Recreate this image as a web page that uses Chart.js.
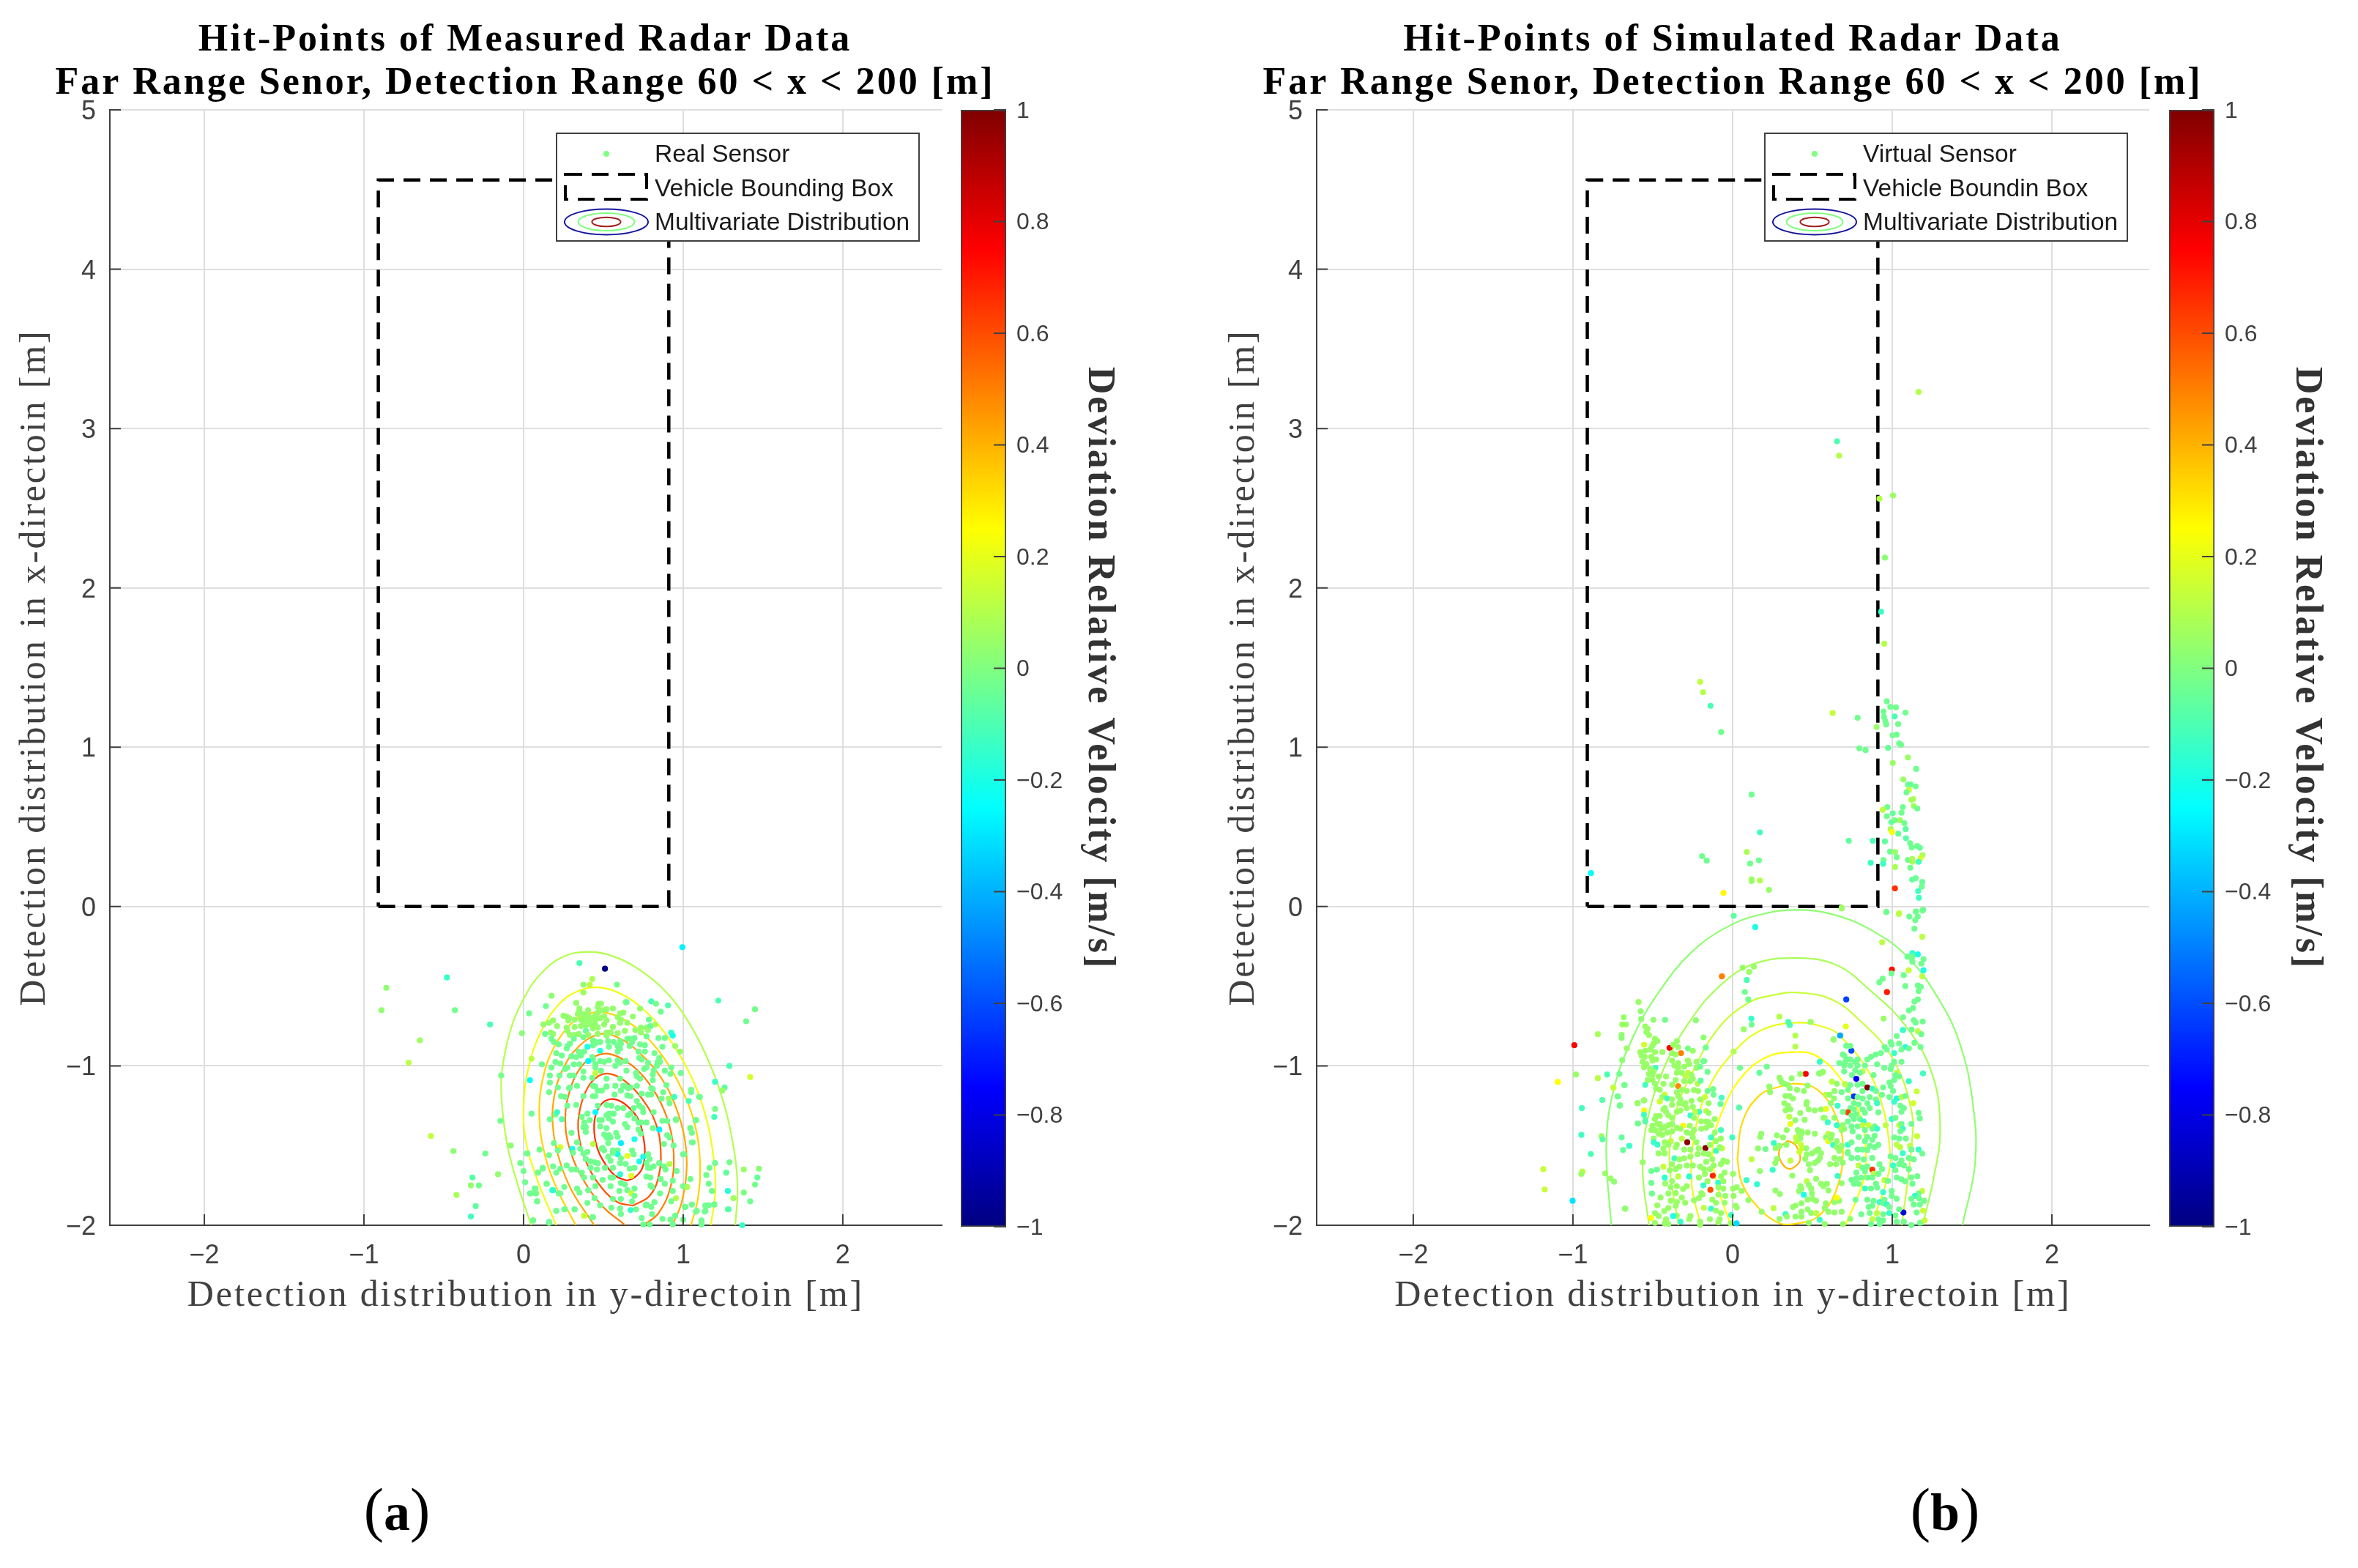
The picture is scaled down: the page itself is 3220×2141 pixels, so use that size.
<!DOCTYPE html>
<html>
<head>
<meta charset="utf-8">
<title>Hit-Points of Radar Data</title>
<script src="https://cdn.jsdelivr.net/npm/chart.js@4/dist/chart.umd.min.js"></script>
<style>
  html, body { margin: 0; padding: 0; background: #fff; overflow: hidden; }
  #page { position: relative; width: 3220px; height: 2141px; }
  canvas { position: absolute; top: 0; }
  .tag { position: absolute; top: 2012px; width: 160px; margin-left: -80px; text-align: center;
         font: normal 82px/100px "Liberation Serif", serif; color: #000; }
  .tag b { font-size: 72px; }
</style>
</head>
<body>
<div id="page">
  <canvas id="measuredPanel" width="1434" height="1800" style="left:0"></canvas>
  <canvas id="measuredBar" width="300" height="1800" style="left:1290px"></canvas>
  <canvas id="virtualPanel" width="1532" height="1800" style="left:1600px"></canvas>
  <canvas id="virtualBar" width="280" height="1800" style="left:2940px"></canvas>
  <div class="tag" style="left:542px">(<b>a</b>)</div>
  <div class="tag" style="left:2656px">(<b>b</b>)</div>
</div>
<script>
// ===== tick labels and texts =====
const xTickValues = [-2, -1, 0, 1, 2];
const yTickValues = [-2, -1, 0, 1, 2, 3, 4, 5];
const barTickValues = [-1, -0.8, -0.6, -0.4, -0.2, 0, 0.2, 0.4, 0.6, 0.8, 1];

const measuredTitle = ['Hit-Points of Measured Radar Data', 'Far Range Senor, Detection Range 60 < x < 200 [m]'];
const virtualTitle = ['Hit-Points of Simulated Radar Data', 'Far Range Senor, Detection Range 60 < x < 200 [m]'];
const measuredLegend = ['Real Sensor', 'Vehicle Bounding Box', 'Multivariate Distribution'];
const virtualLegend = ['Virtual Sensor', 'Vehicle Boundin Box', 'Multivariate Distribution'];

// vehicle outline, same in both panels
const boxX = [-.91, .91, .91, -.91, -.91];
const boxY = [0, 0, 4.56, 4.56, 0];

// ===== measured data: [y-direction, x-direction, deviation (optional)] =====
const measuredOutliers = [[-.86,-.51,.03],[-.89,-.65,.03],[-.48,-.445,-.14],[-.43,-.65],[-.21,-.74,-.1],[-.65,-.84,.06],[-.72,-.98,.12],
[-.14,-1.06,-.02],[-.145,-1.345],[-.58,-1.44,.13],[-.44,-1.535,.03],[-.24,-1.55],[-.08,-1.5,.03],[-.16,-1.68,.04],[-.32,-1.7,-.08],[-.33,-1.75,.04],[-.28,-1.75,-.03],[-.42,-1.81,.08],[-.3,-1.88,-.06],[-.33,-1.945,-.12],
[-.02,-1.61],[0,-1.66],[.02,-1.55],[.01,-1.73],[.09,-1.67],[.12,-1.64],[.04,-1.8],[.08,-1.8,.06],[.085,-1.85,.04],[.07,-1.77],[.06,-1.97],[.16,-1.98,-.1],[.145,-1.74,.03],[.18,-1.78,-.14],[.26,-1.9,.03],[.32,-1.9,.03],[.38,-1.94,.12],[.43,-1.95],[.22,-1.8],
[.995,-.255,-.27],[1.22,-.59,-.1],[1.45,-.645,-.02],[1.395,-.72],[1.29,-1,-.1],[1.42,-1.07,.16],[1.2,-1.1,-.14],[1.26,-1.135,-.07],[1.245,-1.155,.05],[1.1,-1.195,-.04],[1.2,-1.27,-.01],[1.195,-1.32,-.12],[1.08,-1.34,-.02],[1.045,-1.39,.02],[1.055,-1.48],[1,-1.555,-.04],
[1.2,-1.61],[1.29,-1.605,-.02],[1.165,-1.64],[1.38,-1.65,.05],[1.475,-1.645,.02],[1.145,-1.685],[1.27,-1.67,-.06],[1.465,-1.7,-.05],[1.16,-1.74,-.03],[1.45,-1.745,-.02],[1.18,-1.785],[1.28,-1.785,-.17],[1.38,-1.795,-.01],[1.315,-1.83,.06],[1.42,-1.85],[1.195,-1.87],[1.14,-1.88,.02],[1.055,-1.87],[1.015,-1.885],[1.08,-1.915],[1.135,-1.915],[1.28,-1.9,-.05],[1.115,-1.975],[1.37,-2,-.14],[1.045,-1.71],[1.02,-1.76,.06],
[.35,-.355,-.1],[.51,-.39,-.98],[.43,-.455,.08],[.375,-.49,.03],[.415,-.49,.12],[.585,-.49,-.02],[.375,-.54,.06],[.175,-.56,.03],[.14,-.625],[.33,-.605,.02],[.035,-.67,-.03],[-.01,-.795,.02],[.05,-.955,.12],
[.8,-.595,-.1],[.83,-.61,-.02],[.905,-.62,-.08],[.86,-.66],[.64,-.6,.03]];

const measuredTop = [[.33,-.605],[.47,-.61],[.485,-.61],[.645,-.6,-.04],[.73,-.64],[.56,-.64],[.35,-.64],[.35,-.655],[.405,-.65],[.465,-.63],[.52,-.645],[.375,-.675],[.4,-.675],[.465,-.665],[.495,-.65],[.34,-.675],[.605,-.67],[.625,-.665],[.685,-.69],
[.25,-.685],[.27,-.69],[.285,-.7],[.28,-.715],[.32,-.71],[.36,-.71],[.38,-.7],[.405,-.69],[.43,-.7],[.45,-.685],[.48,-.7],[.505,-.69],[.375,-.72],[.405,-.715],[.43,-.72],[.45,-.715],[.52,-.715],[.59,-.695],[.61,-.71],[.65,-.73],[.785,-.71,-.05],
[.185,-.715],[.16,-.73],[.125,-.74],[.21,-.75],[.27,-.76],[.32,-.755],[.36,-.75],[.39,-.745],[.42,-.74],[.45,-.745],[.465,-.76],[.505,-.74],[.56,-.755],[.605,-.73],[.435,-.765],[.735,-.76],[.77,-.76],[.795,-.75,-.06],[.825,-.74,.08],
[.135,-.8,-.04],[.17,-.79],[.185,-.8],[.275,-.78],[.29,-.805],[.32,-.805],[.345,-.8],[.39,-.78,-.04],[.405,-.805],[.465,-.8],[.52,-.79],[.545,-.79],[.59,-.795],[.635,-.78],[.7,-.775],[.735,-.79],[.78,-.775],[.52,-.81]];

const measuredMiddle = [[.175,-.83],[.19,-.85],[.315,-.83],[.375,-.82],[.435,-.84],[.45,-.85],[.48,-.85],[.53,-.845],[.565,-.85],[.605,-.845],[.65,-.83],[.67,-.83],[.695,-.825],[.68,-.85],[.77,-.815],[.845,-.825],[.885,-.825],[.925,-.79,-.14],[.935,-.81,-.2],
[.22,-.865],[.275,-.875],[.27,-.89],[.29,-.86],[.435,-.87],[.45,-.86],[.4,-.88,-.2],[.535,-.88],[.59,-.875],[.61,-.86],[.665,-.875],[.73,-.865],[.76,-.87],[.87,-.88],[.95,-.875,.05],[.76,-.91],[.72,-.91],[.48,-.905,-.18],[.59,-.91],[.345,-.91],[.38,-.91],[.605,-.89],[.82,-.92],[.98,-.91,.04],
[.205,-.92],[.24,-.935],[.3,-.94],[.33,-.945],[.36,-.935],[.43,-.945],[.435,-.96],[.725,-.95],[.74,-.96],[.85,-.95],[.2,-.975],[.23,-.985],[.315,-.99],[.35,-.99],[.48,-.97],[.505,-.975],[.535,-.965],[.59,-.965],[.605,-.98],[.64,-.97],[.78,-.98],[.84,-.975],[.855,-.975],
[.115,-.99],[.175,-1.01],[.26,-1.02],[.275,-1.01],[.405,-.97,-.27],[.45,-.99],[.45,-1.01],[.575,-1],[.645,-1.03],[.755,-1.02],[.77,-1.01],[.835,-1],[.925,-1.01],[.815,-1.03],[.885,-1.03],[.985,-1.045],[.92,-1.05],
[.165,-1.06],[.225,-1.06],[.29,-1.06],[.315,-1.06],[.375,-1.035],[.375,-1.075],[.43,-1.075],[.485,-1.03],[.45,-1.045,.13],[.52,-1.08],[.605,-1.08],[.705,-1.045],[.81,-1.055],[.71,-1.065],[.73,-1.08],[.81,-1.09],[.04,-1.09,-.25],[.165,-1.105],[.215,-1.135],[.285,-1.14],[.335,-1.125],[.435,-1.125],[.52,-1.13],[.575,-1.125],[.625,-1.125],[.655,-1.14],[.71,-1.125],[.8,-1.14],[.895,-1.12],[1.05,-1.15]];

const measuredLower = [[.16,-1.165],[.235,-1.19],[.26,-1.195],[.29,-1.135],[.275,-1.25],[.33,-1.245],[.375,-1.19],[.435,-1.19],[.45,-1.19],[.465,-1.155],[.49,-1.155],[.45,-1.13],[.52,-1.13],[.57,-1.18],[.61,-1.155],[.65,-1.185],[.67,-1.19],[.635,-1.125],[.67,-1.135],[.71,-1.22],[.74,-1.175],[.78,-1.18],[.8,-1.18],[.81,-1.145],[.875,-1.165],[.865,-1.205],[.91,-1.205,.06],[.945,-1.195,-.12],[.915,-1.235],[1.05,-1.165],[1.035,-1.22,-.1],[1.105,-1.195],
[.05,-1.3],[.2,-1.305],[.21,-1.29,-.14],[.165,-1.335],[.24,-1.335,-.08],[.365,-1.32],[.4,-1.3],[.38,-1.355],[.415,-1.34],[.39,-1.385],[.375,-1.385],[.39,-1.415],[.45,-1.29,-.25],[.465,-1.25],[.52,-1.245],[.55,-1.25],[.59,-1.265],[.625,-1.265],[.69,-1.265],[.725,-1.25],[.745,-1.265],[.75,-1.29],[.815,-1.29],[.535,-1.3],[.565,-1.3],[.52,-1.31],[.49,-1.34],[.475,-1.34],[.535,-1.33],[.56,-1.35],[.655,-1.31],[.67,-1.3],[.695,-1.33],[.635,-1.365],[.65,-1.385],[.72,-1.355],[.735,-1.355],[.77,-1.355],[.87,-1.345],[.9,-1.345],[.955,-1.335],[.955,-1.34],[1.08,-1.34],[1.045,-1.39],[1.055,-1.42],[1.06,-1.48],
[.48,-1.38],[.52,-1.39],[.72,-1.4],[.735,-1.425],[.81,-1.39],[.85,-1.4,-.28],[.9,-1.435],[.915,-1.45],[.88,-1.49],[.94,-1.5],[.3,-1.42],[.505,-1.43],[.535,-1.435],[.52,-1.45],[.545,-1.45],[.58,-1.42],[.59,-1.445],[.695,-1.46,-.2],[.61,-1.485,-.28],[.53,-1.485],[.335,-1.48],[.435,-1.49,.12],[.355,-1.52],[.495,-1.515],[.19,-1.485],[.23,-1.51,.18],[.1,-1.525],[.025,-1.55],[.215,-1.53],[.305,-1.52,-.2],[.31,-1.545],
[.375,-1.55],[.4,-1.54],[.49,-1.52],[.505,-1.53],[.56,-1.53],[.59,-1.53],[.68,-1.53],[.59,-1.555,-.2],[.56,-1.545],[.65,-1.565,.2],[.69,-1.555],[.61,-1.58],[.53,-1.57],[.545,-1.595],[.42,-1.6],[.445,-1.605],[.465,-1.61],[.39,-1.585],[.27,-1.625],[.3,-1.65],[.16,-1.56],[.725,-1.6,-.2],[.75,-1.57,-.2],[.78,-1.555],[.79,-1.585],[.77,-1.61],[.78,-1.64],[.795,-1.64],[.85,-1.61],[.915,-1.615,.1],[.815,-1.63],[.88,-1.63],[.89,-1.65],[.96,-1.66],[1.005,-1.555],[.605,-1.61],[.64,-1.615],[.665,-1.645],[.695,-1.64],[.56,-1.64],[.51,-1.64],[.46,-1.65],[.42,-1.64],[.185,-1.63],[.23,-1.645],[.12,-1.645],[.09,-1.67],[.205,-1.67],[.33,-1.65],[.365,-1.67],
[.38,-1.7],[.435,-1.7],[.495,-1.715],[.605,-1.68,-.16],[.545,-1.7],[.56,-1.7],[.675,-1.69,.18],[.77,-1.695],[.795,-1.7],[.86,-1.71],[.935,-1.72],[1,-1.755],[1.025,-1.76,.08],[.61,-1.735],[.635,-1.745],[.885,-1.74],[.795,-1.75],[.805,-1.76],[.255,-1.76],[.45,-1.755],[.545,-1.755],[.145,-1.74],[.185,-1.78,-.16],[.23,-1.8],[.075,-1.77],[.045,-1.8],[.075,-1.8],[.335,-1.77],[.35,-1.795],[.405,-1.78],[.6,-1.785],[.65,-1.78],[.695,-1.77],[.675,-1.8,.14],[.695,-1.815],[.855,-1.8],[.935,-1.785],
[.085,-1.85],[.4,-1.86],[.445,-1.83],[.48,-1.875],[.56,-1.835],[.61,-1.835],[.68,-1.85],[.77,-1.87],[.82,-1.855],[.765,-1.875],[.955,-1.83,.1],[.925,-1.85],[.8,-1.885],[.205,-1.91],[.255,-1.9],[.32,-1.9],[.38,-1.94,.14],[.435,-1.95],[.55,-1.89],[.605,-1.895],[.67,-1.905,-.14],[.705,-1.9],[.61,-1.93],[.805,-1.93],[1.01,-1.885],[.06,-1.97],[.16,-1.985],[.87,-1.96],[.92,-1.965],[.95,-1.94],[1,-1.965],[.74,-1.955],[.75,-1.995],[.79,-1.995],[.935,-1.995],[1.115,-1.97],[1.115,-1.995],[1.085,-1.91],[1.14,-1.875],[1.16,-1.875],[1.14,-1.91],[1.195,-1.87],[1.285,-1.9,-.08]];

const measuredLevels = [.1, .22, .33, .42, .5, .58, .66];
const measuredContours = [
  [[.048,-2],[-.038,-1.74],[-.105,-1.48],[-.14,-1.158],[-.124,-.959],[-.067,-.729],[.019,-.545],[.114,-.415],[.247,-.315],[.409,-.285],[.57,-.315],[.741,-.407],[.894,-.537],[1.027,-.714],[1.141,-.928],[1.236,-1.173],[1.302,-1.433],[1.34,-1.74],[1.327,-2]],
  [[.205,-2],[.095,-1.74],[.019,-1.495],[0,-1.28],[.029,-1.02],[.114,-.775],[.228,-.606],[.342,-.53],[.456,-.507],[.589,-.538],[.741,-.637],[.894,-.805],[1.027,-1.02],[1.131,-1.28],[1.188,-1.556],[1.202,-1.786],[1.173,-2]],
  [[.327,-2],[.209,-1.77],[.133,-1.556],[.099,-1.31],[.124,-1.066],[.2,-.867],[.304,-.729],[.399,-.675],[.494,-.663],[.608,-.698],[.741,-.79],[.875,-.944],[.989,-1.142],[1.074,-1.372],[1.106,-1.617],[1.093,-1.83],[1.049,-2]],
  [[.443,-2],[.304,-1.786],[.228,-1.6],[.186,-1.403],[.19,-1.204],[.247,-1.02],[.342,-.882],[.475,-.801],[.589,-.821],[.722,-.913],[.856,-1.066],[.951,-1.25],[1.011,-1.464],[1.021,-1.663],[.989,-1.862],[.932,-2]],
  [[.637,-2],[.494,-1.88],[.38,-1.724],[.295,-1.54],[.262,-1.357],[.285,-1.173],[.361,-1.005],[.456,-.936],[.523,-.923],[.608,-.951],[.722,-1.035],[.837,-1.188],[.913,-1.372],[.941,-1.556],[.922,-1.755],[.846,-1.923],[.751,-2]],
  [[.684,-1.877],[.589,-1.855],[.494,-1.77],[.399,-1.617],[.346,-1.433],[.352,-1.28],[.399,-1.142],[.466,-1.066],[.542,-1.05],[.637,-1.096],[.741,-1.204],[.827,-1.357],[.859,-1.525],[.846,-1.694],[.789,-1.816],[.684,-1.877]],
  [[.646,-1.72],[.57,-1.686],[.494,-1.587],[.452,-1.479],[.443,-1.357],[.466,-1.273],[.513,-1.219],[.58,-1.211],[.656,-1.257],[.722,-1.341],[.751,-1.449],[.76,-1.556],[.741,-1.648],[.694,-1.701],[.646,-1.72]]
];

// ===== simulated data =====
const virtualUpper = [[1.165,3.23,.1],[.654,2.92,-.1],[.667,2.83,.1],[.92,2.56,.1],[1.005,2.58,.05],[.954,2.19,.02],[.93,1.85,-.14],[.95,1.65,.1],[-.203,1.41,.12],[-.185,1.345,.1],[-.138,1.26,-.1],[-.072,1.095],[.627,1.215,.13],[.783,1.185],[.902,1.127,.05],[.794,.993],[.833,.982],
[.966,1.288],[.988,1.253],[1.023,1.25],[1.083,1.217],[.945,1.224],[.948,1.19],[1.015,1.193,-.1],[.957,1.163],[.962,1.143],[1.037,1.145],[1.028,1.079],[1.003,1.075],[1.043,1.024],[1.055,1.015],[.974,.996,-.05],[1.098,.936,.05],[1.003,.901,.05],[1.15,.864],[1.069,.798,.05],[1.098,.765],[1.115,.767,-.05],[1.147,.754],[1.104,.732,.14],[1.089,.716],[1.132,.675,.08],[1.12,.67,.08],[1.066,.624],[1.135,.631,.06],[1.157,.615],[.969,.624],[.94,.607,.12],[.966,.567],[1.003,.585,-.05],[1.058,.589],[.994,.53,-.06],[1.015,.541],[1.049,.541,.06],[1.076,.523],[1.084,.486,-.06],[.99,.486,.08],[.998,.468,.24],[1.038,.457,-.05],[1.086,.429,-.08],[.954,.409,-.06],[.878,.413,-.1],[.728,.413,-.06],[1.112,.398],[1.122,.371],[1.156,.38],[1.173,.369,-.05],[.986,.345],[1.018,.343,.05],[1.19,.323,.08],[1.028,.31],[1.177,.303,.16],[.945,.292],[1.098,.292],[1.125,.299,.08],[1.127,.281,.08],[1.165,.281,-.12],[.865,.275,-.13],[.943,.268,-.13],[1.018,.248,.08],[1.113,.244],[1.147,.178],[1.125,.169,-.05],[1.188,.154,-.05],[1.185,.125],[1.017,.114,.66],[1.162,.097,-.12],[1.167,.055,-.12],[.683,-.007,.05],[.963,-.033],[1.043,-.042,.14],[1.15,-.031],[1.193,-.02],
[-.191,.316],[-.162,.288],[.119,.703],[.171,.466,-.12],[.089,.343,.08],[.165,.29],[.11,.27],[.119,.171,.05],[.119,.16,.05],[.171,.163,.1],[.228,.105,.05],[-.057,.086,.26],[-.887,.21,-.25],
[.007,-.058,-.06],[.142,-.129,-.2],[.684,-.012,.06],[.963,-.035],[1.042,-.047,.12],[1.107,-.063],[1.147,-.032],[1.16,-.063],[1.144,-.086],[1.19,-.025],[1.139,-.139],[1.188,-.19,.12],[.937,-.224,.12],[1.095,-.315],[1.126,-.292,-.14],[1.16,-.3,-.2],[1.126,-.315],[1.196,-.33],[1.182,-.358],[1.196,-.4,-.2],[1.126,-.346],[1.103,-.4,.14],[.998,-.395,.72],[.995,-.42],[1.072,-.43],[1.188,-.438,.12],[.94,-.453],[.919,-.476],[1.082,-.499],[1.16,-.495],[1.179,-.504],[.967,-.537,.7],[1.165,-.53],[1.16,-.583],[1.139,-.596],[1.13,-.637],[1.105,-.652],[.946,-.703,.05],[1.068,-.695],[1.135,-.714],[1.147,-.729],[1.191,-.721],[1.068,-.775,-.14],[1.121,-.772],[1.16,-.783,.12],[1.182,-.801],[1.139,-.855],[1.177,-.882],[1.193,-1.047,-.12]];

const virtualSparse = [[-.067,-.438,.5],[.063,-.384,.05],[.133,-.377,.05],[.104,-.41,.05],[.089,-.461,-.1],[.077,-.536,-.03],[.098,-.583,-.03],[.118,-.703,-.14],[.119,-.741,-.03],[.07,-.77,.05],[.293,-.691,.1],[.349,-.724,-.1],[.358,-.744,-.1],[.489,-.724,.05],[.393,-.81,.1],[.393,-.879,.1],[.712,-.583,-.62],[.709,-.752,.2],[.674,-.809,-.42],[.632,-.833,-.03],[.744,-.905,-.6],[.712,-.874,-.03],[.7,-.936,-.03],
[-.589,-.599,.05],[-.575,-.657,.03],[-.682,-.695,.05],[-.668,-.74,.05],[-.691,-.74,.05],[-.572,-.706,.03],[-.496,-.711,.03],[-.423,-.711,-.03],[-.23,-.714,.03],[-.844,-.801,.08],[-.695,-.805,.03],[-.695,-.824,.03],[-.182,-.821,.03],[-.168,-.885,-.03],[-.663,-.89,.05],[-.691,-.963,.03],[-.991,-.87,.75],[-.395,-.887,.75],[-.323,-.92,.5],[-.554,-.867,.16],[.007,-.91,.1],[-.177,-.971,-.03],[.046,-1.012,-.03],[.214,-1.005,-.03],[.168,-1.043,-.06],[.458,-1.05,.75],[.542,-1.047,-.03],[.565,-1.038,.03],[-.981,-1.054,.05],[-1.095,-1.101,.25],[-.844,-1.077,.12],[-.786,-1.054,-.1],[-.709,-1.05,-.03],[-.747,-1.135,.08],[-.677,-1.121,-.03],[-.718,-1.191,-.03],[-.816,-1.214,-.08],[-.707,-1.25,-.03],[-.944,-1.265,-.12],[-.595,-1.234,.05],[-.554,-1.216,.03],[-.554,-1.28,.22],[-.546,-1.338,-.03],[-.593,-1.361,.03],[-.947,-1.433,-.12],[-.821,-1.441,.05],[-.814,-1.461,-.08],[-.695,-1.449,-.05],[-.647,-1.502,-.14],[-.686,-1.528,-.05],[-.888,-1.553,-.1],[-.563,-1.605,.05],[-1.186,-1.648,.14],[-.94,-1.663,.12],[-.947,-1.678,.05],[-1.177,-1.776,.14],[-.798,-1.675,.05],[-.765,-1.706,.05],[-.742,-1.727,.03],[-1.002,-1.847,-.3],[-.672,-1.897,.03],[-.511,-1.954,.25],[.025,-1.988,-.32],[-.677,-1.119,-.03],[-.746,-1.138,.14],[-.72,-1.192,-.03],[-.705,-1.247,-.03]];

const virtualLeftBlob = [[-.547,-.752],[-.532,-.767],[-.54,-.787],[-.524,-.806],[-.486,-.829],[-.471,-.844],[-.494,-.859],[-.503,-.874],[-.578,-.913],[-.547,-.905],[-.517,-.897],[-.57,-.936],[-.55,-.943],[-.563,-.974],[-.54,-.989],[-.555,-1.008],[-.486,-.913],[-.509,-.943],[-.479,-.959],[-.502,-.966],[-.483,-1.012,-.12],[-.517,-1.02],[-.494,-1.035],[-.524,-1.051],[-.502,-1.058],[-.463,-1.066],[-.532,-1.089],[-.502,-1.089],[-.547,-1.119,-.12],[-.486,-1.112],[-.479,-1.142],[-.456,-1.15],
[-.44,-.913],[-.349,-.844],[-.372,-.867],[-.341,-.882],[-.28,-.89,-.02],[-.249,-.905],[-.379,-.92],[-.356,-.928],[-.379,-.966],[-.341,-.982],[-.28,-.966],[-.226,-.974],[-.183,-.97,-.03],[-.364,-.998],[-.341,-1.012],[-.303,-1.005],[-.272,-.989],[-.226,-1.012],[-.203,-1.005,-.03],[-.157,-1.038,-.03],[-.417,-1.066],[-.349,-1.043],[-.318,-1.043],[-.28,-1.043,.12],[-.257,-1.058],[-.295,-1.066,.12],[-.249,-1.081],[-.219,-1.112,.1],[-.2,-1.093,-.06],[-.356,-1.089],[-.303,-1.096],[-.264,-1.096],[-.341,-1.127,.48],[-.433,-1.112],[-.379,-1.119],[-.242,-1.151],[-.216,-1.158],[-.157,-1.158,-.03],[-.122,-1.146,-.03],[-.119,-1.181,-.03],[-.173,-1.196,.15],
[-.349,-1.165],[-.318,-1.15],[-.287,-1.158],[-.425,-1.181,.15],[-.44,-1.196],[-.41,-1.204,-.12],[-.379,-1.211],[-.341,-1.188],[-.326,-1.211],[-.456,-1.224,.15],[-.333,-1.234],[-.295,-1.234],[-.257,-1.219],[-.203,-1.211],[-.15,-1.234],[-.069,-1.199,-.12],[-.076,-1.239,-.05],[-.425,-1.265],[-.379,-1.245],[-.287,-1.265],[-.249,-1.257],[-.211,-1.288,-.14],[-.234,-1.288,.12],[-.165,-1.283,.12],[-.15,-1.296],[.041,-1.262,-.08],[-.596,-1.234],[-.555,-1.216],[-.555,-1.306,-.12],[-.547,-1.349,-.08],[-.593,-1.362,-.03],
[-.479,-1.314],[-.456,-1.314],[-.486,-1.334],[-.433,-1.273],[-.417,-1.288],[-.402,-1.311],[-.379,-1.326],[-.349,-1.288],[-.326,-1.28],[-.303,-1.242],[-.264,-1.311,-.14],[-.242,-1.326],[-.196,-1.349],[-.112,-1.334],[-.135,-1.372],[-.15,-1.354],[-.165,-1.35],[-.31,-1.375,.26],[-.268,-1.375],[-.502,-1.375],[-.471,-1.365],[-.456,-1.365],[-.509,-1.403],[-.486,-1.403],[-.448,-1.395],[-.425,-1.385],[-.402,-1.372],[-.379,-1.365],[-.349,-1.388],[-.326,-1.395],[-.463,-1.426],[-.44,-1.433],[-.41,-1.418],[-.379,-1.411],[-.287,-1.418],[-.257,-1.426],[-.242,-1.403],[-.196,-1.395],[-.165,-1.388],[-.112,-1.418],[-.073,-1.403,-.12],[-.494,-1.456],[-.471,-1.494,-.14],[-.494,-1.479,-.14],[-.425,-1.479],[-.387,-1.472,.12],[-.402,-1.494],[-.349,-1.494],[-.318,-1.456,.12],[-.284,-1.479,.98],[-.249,-1.449],[-.226,-1.479],[-.17,-1.516,.98],[-.135,-1.449,-.14],[-.104,-1.472],[-.073,-1.456],[-.002,-1.449,-.12],
[-.463,-1.549],[-.425,-1.549],[-.433,-1.518],[-.356,-1.51],[-.303,-1.525],[-.264,-1.525],[-.211,-1.518],[-.142,-1.495],[-.104,-1.533,-.14],[-.066,-1.518,.14],[-.081,-1.51],[-.15,-1.555],[-.18,-1.549],[-.219,-1.555],[-.264,-1.57],[-.364,-1.58,-.12],[-.333,-1.587],[-.303,-1.58],[-.127,-1.586],[-.058,-1.594],[-.035,-1.602],[-.073,-1.617],[-.433,-1.632,.14],[-.509,-1.66,-.03],[-.474,-1.651,-.05],[-.379,-1.617],[-.356,-1.648],[-.394,-1.656],[-.333,-1.632],[-.287,-1.625],[-.249,-1.625],[-.203,-1.632],[-.165,-1.602],[-.119,-1.625],[-.142,-1.648],[-.18,-1.648],
[-.341,-1.694,.12],[-.379,-1.724],[-.425,-1.701,-.16],[-.272,-1.694,-.16],[-.211,-1.701],[-.173,-1.678],[-.124,-1.689,.68],[-.073,-1.694],[-.05,-1.67],[.003,-1.678],[-.157,-1.724],[-.09,-1.733,-.16],[-.058,-1.724],[-.422,-1.739],[-.509,-1.734,-.03],[-.387,-1.762],[-.349,-1.755],[-.31,-1.773],[-.287,-1.755],[-.183,-1.75,-.14],[-.139,-1.778,.6],[-.089,-1.762],[-.058,-1.77],[.003,-1.77],[.026,-1.762],[.057,-1.785],
[-.505,-1.801,-.03],[-.402,-1.801],[-.356,-1.798],[-.196,-1.798],[-.188,-1.808],[-.089,-1.808],[-.046,-1.816],[.006,-1.816],[-.451,-1.826],[-.318,-1.827],[-.211,-1.83],[-.127,-1.839],[-.387,-1.847],[-.349,-1.854],[-.297,-1.859],[-.242,-1.844],[-.104,-1.859],[-.05,-1.859],[-.472,-1.875],[-.18,-1.89,.12],[-.135,-1.896,-.14],[-.402,-1.891],[-.356,-1.878],[-.104,-1.908],[.018,-1.877],[.026,-1.889],[-.674,-1.896,.03],[-.428,-1.911],[-.486,-1.923],[-.463,-1.942],[-.349,-1.939],[-.372,-1.942,-.2],[-.264,-1.942],[-.073,-1.923],[-.142,-1.962],[-.081,-1.962],[-.009,-1.936,-.14],[-.417,-1.962],[-.272,-1.962],[-.203,-1.977],[-.326,-1.977,-.14],[-.486,-1.985],[-.425,-1.988],[-.402,-1.992],[-.203,-1.997],[-.089,-1.982],[-.012,-1.988]];

const virtualMiddle = [[.633,-.836],[.424,-1.051],[.546,-1.048],[.566,-1.038],[.546,-.974,-.14],[.294,-1.074],[.309,-1.104],[.301,-1.089],[.324,-1.112],[.37,-1.078],[.347,-1.12],[.23,-1.13],[.235,-1.165],[.358,-1.14],[.404,-1.15],[.447,-1.158],[.47,-1.124],[.332,-1.189],[.355,-1.189],[.378,-1.204],[.324,-1.234],[.347,-1.25],[.362,-1.273],[.332,-1.28],[.462,-1.242],[.477,-1.273],[.465,-1.227],
[.515,-1.28],[.554,-1.273],[.584,-1.27,.2],[.569,-1.326],[.596,-1.354,-.14],[.424,-1.296],[.355,-1.319,.12],[.393,-1.341],[.362,-1.365,.2],[.451,-1.338],[.339,-1.403],[.408,-1.403],[.431,-1.411],[.47,-1.418],[.515,-1.426],[.431,-1.426],[.416,-1.418],[.397,-1.449,.12],[.424,-1.456],[.4,-1.472,.12],[.428,-1.494,.14],[.434,-1.517,.16],[.419,-1.54,.16],[.278,-1.436],[.179,-1.426],[.174,-1.446],[.316,-1.449],[.258,-1.484,-.14],[.294,-1.502],[.337,-1.495],[.27,-1.517],[.159,-1.518],[.206,-1.522,-.03],[.362,-1.594,.12],[.278,-1.583],[.268,-1.61],[.119,-1.586,.12],[.251,-1.652,-.14],[.171,-1.66],[.461,-1.517],[.465,-1.556],[.455,-1.583],[.477,-1.617],[.485,-1.655],[.515,-1.609],[.5,-1.548],[.538,-1.525],[.554,-1.548],[.546,-1.578],[.535,-1.594],[.523,-1.533],[.374,-1.689],[.087,-1.717,-.14],[.153,-1.743,-.16],
[.622,-1.099,.12],[.653,-1.112],[.584,-1.181,.12],[.607,-1.181],[.638,-1.158],[.635,-1.204],[.658,-1.25,-.14],[.615,-1.234],[.576,-1.326],[.638,-1.326],[.599,-1.426,.12],[.622,-1.433],[.584,-1.449],[.599,-1.472,.2],[.63,-1.495,-.14],[.615,-1.456],[.653,-1.472],[.683,-1.403],[.668,-1.38,.12],[.691,-1.372],[.699,-1.396],[.653,-1.372,-.14],[.653,-1.51],[.683,-1.502],[.668,-1.533],[.722,-1.54],[.638,-1.578],[.611,-1.617],[.648,-1.617],[.673,-1.585],[.69,-1.608],
[.465,-1.724,.12],[.477,-1.747],[.492,-1.77],[.523,-1.709],[.554,-1.74],[.569,-1.755],[.591,-1.74],[.424,-1.755],[.431,-1.77],[.416,-1.786],[.446,-1.809,-.2],[.497,-1.801],[.6,-1.782],[.47,-1.839],[.5,-1.834],[.523,-1.847],[.431,-1.862],[.394,-1.877],[.378,-1.885],[.268,-1.782],[.296,-1.804],[.099,-1.843],[.256,-1.893,.12],[.182,-1.916],[.584,-1.862],[.577,-1.893],[.638,-1.855],[.668,-1.847],[.683,-1.736],[.658,-1.691,-.14],[.653,-1.827,.24],[.6,-1.916],[.638,-1.92],[.683,-1.916],[.431,-1.916],[.47,-1.9],[.492,-1.923],[.523,-1.923,.12],[.394,-1.946],[.431,-1.946],[.294,-1.96],[.332,-1.93,-.14],[.34,-1.946],[.546,-1.966,-.14],[.477,-1.985],[.577,-1.992],[.691,-1.992],[.737,-1.96]];

const virtualRightBlob = [[.691,-.928],[.737,-.874],[.714,-.959],[.668,-.982],[.706,-.974],[.737,-.959],[.768,-.974],[.783,-.959],[.783,-.997],[.814,-1.035,.12],[.829,-.997],[.699,-.997],[.737,-.997],[.699,-1.035],[.768,-1.027],[.748,-1.058],[.798,-1.043],[.883,-1.058],[.775,-1.081,-.75],[.703,-1.115,.12],[.737,-1.119],[.783,-1.119],[.814,-1.112],[.844,-1.135,.98],[.875,-1.143,-.14],[.723,-1.15],[.683,-1.165],[.814,-1.158],[.898,-1.158],[.936,-1.181],[.76,-1.191,-.65],[.723,-1.204],[.783,-1.196],[.814,-1.204],[.859,-1.196],[.898,-1.211],[.905,-1.234,-.14],[.76,-1.234],[.79,-1.242],[.844,-1.234],[.737,-1.265],[.76,-1.273],[.814,-1.273],[.859,-1.265],[.722,-1.292,.62],[.691,-1.288],[.745,-1.311],[.775,-1.303],[.829,-1.295],[.913,-1.292],[.722,-1.349],[.76,-1.334],[.798,-1.334],[.821,-1.349,-.14],[.745,-1.38],[.783,-1.38],[.814,-1.372,.12],[.852,-1.372,.14],[.89,-1.38],[.959,-1.372,.12],[.752,-1.41],[.829,-1.403],[.875,-1.395],[.905,-1.395,-.14],[.79,-1.446],[.844,-1.446],[.89,-1.438],[.722,-1.495,-.14],[.745,-1.48],[.829,-1.472],[.875,-1.464],[.913,-1.495],[.859,-1.502],[.783,-1.525],[.814,-1.525],[.844,-1.528],[.89,-1.51],[.722,-1.548],[.745,-1.578],[.783,-1.578],[.875,-1.578],[.821,-1.587],[.79,-1.625,.12],[.814,-1.64],[.875,-1.651,.65],[.844,-1.632],[.92,-1.617],[.936,-1.648],[.775,-1.67],[.829,-1.662],[.883,-1.678,.12],[.913,-1.678],[.951,-1.717,.12],[.974,-1.722],[.745,-1.715],[.775,-1.708],[.806,-1.7],[.844,-1.7],[.875,-1.7],[.76,-1.74],[.79,-1.74],[.829,-1.769,-.14],[.867,-1.769],[.898,-1.74],[.905,-1.763],[.997,-1.785],[.943,-1.793,-.14],[.77,-1.84],[.844,-1.84],[.883,-1.847],[.921,-1.855,-.14],[.951,-1.84],[.943,-1.862],[.966,-1.87,-.14],[.852,-1.885],[.875,-1.878],[.981,-1.885],[.806,-1.931],[.859,-1.923],[.905,-1.923,.12],[.943,-1.931],[.981,-1.923,-.14],[.875,-1.962,.12],[.913,-1.962],[.943,-1.97],[.867,-1.992],[.921,-1.992],
[.99,-.851],[.952,-.882],[.966,-.897],[.997,-.867],[1.028,-.813],[1.066,-.775,-.14],[1.043,-.859],[1.082,-.882,-.2],[1.104,-.89],[1.058,-.897],[1.012,-.92,-.14],[.928,-.92],[.897,-.928],[.867,-.943],[.844,-.959],[.905,-.99],[.95,-1.012],[.997,-.997],[1.012,-.974],[1.058,-.974],[.99,-1.02],[1.028,-1.043,.12],[1.043,-1.066],[1.104,-1.096,-.14],[1.012,-1.089],[.982,-1.104],[1.02,-1.058],[.99,-1.127],[.943,-1.135],[.982,-1.196],[1.005,-1.158],[1.028,-1.204,-.2],[1.058,-1.196,.12],[1.082,-1.189],[1.012,-1.226,-.14],[1.051,-1.25],[1.073,-1.265],[1.058,-1.288],[1.153,-1.16,.14],[1.132,-1.234,.16],[1.165,-1.295],[1.173,-1.33],[1.12,-1.364],[.997,-1.334,-.14],[1.02,-1.326],[1.043,-1.372,.12],[1.058,-1.364],[1.066,-1.395,-.14],[1.051,-1.41],[1.012,-1.449],[1.043,-1.456],[1.085,-1.456],[1.156,-1.441,.14],[1.028,-1.494,.12],[1.05,-1.51,.12],[1.112,-1.502,.12],[1.12,-1.525],[1.165,-1.525,-.14],[1.066,-1.548,-.14],[1.188,-1.551],[.99,-1.568],[1.02,-1.578],[1.058,-1.594],[1.104,-1.578],[1.135,-1.586],[1.005,-1.625,-.14],[1.043,-1.617],[1.073,-1.625],[1.104,-1.648],[1.02,-1.655],[1.028,-1.7],[1.058,-1.712],[1.081,-1.725],[1.12,-1.7],[1.157,-1.693],[.997,-1.816],[1.028,-1.834],[1.188,-1.785,.14],[1.165,-1.8],[1.142,-1.816,-.14],[1.12,-1.834],[1.168,-1.831],[1.135,-1.87],[1.173,-1.87],[1.2,-1.847],[1.193,-1.908,.14],[1.153,-1.92],[1.07,-1.92,-.82],[1.043,-1.9],[1.02,-1.938],[1.073,-1.977],[1.028,-1.977],[1.12,-1.999],[1.173,-1.985],[1.203,-1.969,.14],[1.127,-1.74]];

const virtualLevels = [.03, .08, .14, .2, .25, .32, .4];
const virtualContours = [
  [[-.76,-2],[-.791,-1.51],[-.747,-1.158],[-.625,-.821],[-.467,-.545],[-.256,-.285],[-.011,-.116],[.218,-.04],[.411,-.021],[.621,-.047],[.867,-.147],[1.095,-.315],[1.288,-.576],[1.42,-.85],[1.5,-1.2],[1.52,-1.6],[1.44,-2]],
  [[-.523,-2],[-.563,-1.663],[-.537,-1.357],[-.432,-1.02],[-.274,-.729],[-.081,-.499],[.13,-.361],[.411,-.323],[.656,-.369],[.849,-.515],[1.08,-.744],[1.25,-1.05],[1.3,-1.4],[1.26,-1.7],[1.19,-2]],
  [[-.339,-2],[-.396,-1.587],[-.353,-1.28],[-.256,-1.05],[-.098,-.775],[.095,-.606],[.27,-.553],[.411,-.54],[.621,-.583],[.796,-.714],[.997,-.943],[1.12,-1.28],[1.12,-1.51],[1.06,-2]],
  [[-.2,-2],[-.256,-1.74],[-.239,-1.433],[-.151,-1.142],[.007,-.913],[.182,-.775],[.411,-.729],[.586,-.76],[.66,-.8],[.83,-1],[.93,-1.22],[.98,-1.48],[.98,-1.66],[.87,-2]],
  [[-.011,-2],[-.098,-1.74],[-.125,-1.51],[-.063,-1.28],[.06,-1.066],[.218,-.943],[.393,-.913],[.523,-.936],[.676,-1.08],[.798,-1.31],[.836,-1.585],[.813,-1.74],[.706,-2]],
  [[.03,-1.587],[.06,-1.357],[.165,-1.188],[.305,-1.127],[.411,-1.112],[.533,-1.15],[.639,-1.296],[.691,-1.51],[.647,-1.786],[.533,-1.946],[.411,-1.988],[.305,-1.992],[.165,-1.893],[.06,-1.74],[.03,-1.587]],
  [[.347,-1.47],[.3,-1.51],[.294,-1.579],[.347,-1.645],[.408,-1.617],[.424,-1.571],[.393,-1.495],[.347,-1.47]]
];

// ===== helpers =====
const JET_STOPS = [[-1,0,0,128],[-.75,0,0,255],[-.25,0,255,255],[0,128,255,128],[.25,255,255,0],[.75,255,0,0],[1,128,0,0]];

function jet(v) {
    for (let i = 1; i < JET_STOPS.length; i++) {
        const a = JET_STOPS[i - 1], b = JET_STOPS[i];
        if (v <= b[0]) {
            const t = (v - a[0]) / (b[0] - a[0]);
            return `rgb(${Math.round(a[1] + t * (b[1] - a[1]))},${Math.round(a[2] + t * (b[2] - a[2]))},${Math.round(a[3] + t * (b[3] - a[3]))})`;
        }
    }
    return 'rgb(128,0,0)';
}

function toPoints(list, fallback) {
    return list.map(p => ({ x: p[0], y: p[1], v: p.length > 2 ? p[2] : fallback }));
}

function minusLabel(value) {
    return String(value).replace('-', '\u2212');
}

const AXIS_DARK = '#404040';
const SERIF = '"Liberation Serif", serif';
const SANS = '"Liberation Sans", sans-serif';

// MATLAB style ticks, pointing into the axes
const inwardTicks = {
    id: 'inwardTicks',
    afterDraw(chart) {
        const { ctx, chartArea: area, scales } = chart;
        ctx.save();
        ctx.strokeStyle = AXIS_DARK;
        ctx.lineWidth = 2;
        ctx.beginPath();
        if (chart.config.type === 'bar') {
            barTickValues.forEach(v => {
                const py = scales.y.getPixelForValue(v);
                ctx.moveTo(area.right - 17, py);
                ctx.lineTo(area.right, py);
            });
        } else {
            xTickValues.forEach(v => {
                const px = scales.x.getPixelForValue(v);
                ctx.moveTo(px, area.bottom - 15);
                ctx.lineTo(px, area.bottom);
            });
            yTickValues.forEach(v => {
                const py = scales.y.getPixelForValue(v);
                ctx.moveTo(area.left, py);
                ctx.lineTo(area.left + 15, py);
            });
        }
        ctx.stroke();
        ctx.restore();
    }
};

// the LaTeX titles run wider than Liberation Serif, so space the letters out;
// tick labels of the vertical axes also sit a bit below their tick in the original
const textTweaks = {
    id: 'textTweaks',
    beforeDraw(chart, args, opts) {
        if (chart.$tweaked) return;
        chart.$tweaked = true;
        const ctx = chart.ctx;
        const spaced = (obj, method, px) => {
            const orig = obj[method];
            obj[method] = function (...a) {
                ctx.letterSpacing = px + 'px';
                orig.apply(this, a);
                ctx.letterSpacing = '0px';
            };
        };
        if (chart.titleBlock && opts.titleSpacing) spaced(chart.titleBlock, 'draw', opts.titleSpacing);
        Object.values(chart.scales).forEach(s => {
            if (s.options.title && s.options.title.display) spaced(s, 'drawTitle', opts.axisSpacing);
        });
        const y = chart.scales.y;
        const drawLabels = y.drawLabels;
        y.drawLabels = function (area) {
            ctx.save();
            ctx.translate(0, opts.labelShift);
            drawLabels.call(this, area);
            ctx.restore();
        };
    }
};

// the legend has swatches Chart.js cannot make (dashed box, nested ellipses)
const sensorLegend = {
    id: 'sensorLegend',
    afterDatasetsDraw(chart, args, opts) {
        const { ctx, chartArea: area } = chart;
        const left = area.left + opts.offset, top = 182, w = 495, h = 147;
        ctx.save();
        ctx.fillStyle = '#fff';
        ctx.fillRect(left, top, w, h);
        ctx.strokeStyle = AXIS_DARK;
        ctx.lineWidth = 2;
        ctx.strokeRect(left, top, w, h);

        ctx.fillStyle = jet(0);
        ctx.beginPath();
        ctx.arc(left + 68, top + 28, 4, 0, Math.PI * 2);
        ctx.fill();

        ctx.strokeStyle = '#000';
        ctx.lineWidth = 4;
        ctx.setLineDash([23, 13]);
        ctx.strokeRect(left + 12, top + 56, 111, 34);
        ctx.setLineDash([]);

        [[57, 17.5, '#14149c'], [38.5, 12, '#7fff7f'], [19.6, 6.3, '#a02020']].forEach(e => {
            ctx.strokeStyle = e[2];
            ctx.lineWidth = 2;
            ctx.beginPath();
            ctx.ellipse(left + 68, top + 121, e[0], e[1], 0, 0, Math.PI * 2);
            ctx.stroke();
        });

        ctx.fillStyle = '#1a1a1a';
        ctx.font = '33.5px ' + SANS;
        ctx.textBaseline = 'middle';
        opts.labels.forEach((text, i) => ctx.fillText(text, left + 134, top + [30, 77, 123][i]));
        ctx.restore();
    }
};

function makePanel(id, cfg) {
    const datasets = [];
    datasets.push({
        label: 'hits',
        data: toPoints(cfg.hits, -.03),
        order: 1,
        clip: false,
        pointRadius: 4.1,
        pointBorderWidth: 0,
        pointHoverRadius: 4.1,
        pointBackgroundColor: ctx => jet(ctx.raw ? ctx.raw.v : 0)
    });
    datasets.push({
        label: 'box',
        data: boxX.map((x, i) => ({ x: x, y: boxY[i] })),
        order: 2,
        showLine: true,
        pointRadius: 0,
        borderColor: '#000',
        borderWidth: 4.5,
        borderDash: [23, 13]
    });
    cfg.contours.forEach((line, i) => {
        datasets.push({
            label: 'contour ' + (i + 1),
            data: line.map(p => ({ x: p[0], y: p[1] })),
            order: 3,
            showLine: true,
            tension: 0.4,
            pointRadius: 0,
            borderColor: jet(cfg.levels[i]),
            borderWidth: 2.2
        });
    });

    return new Chart(document.getElementById(id), {
        type: 'scatter',
        data: { datasets: datasets },
        plugins: [inwardTicks, sensorLegend, textTweaks],
        options: {
            responsive: false,
            animation: false,
            devicePixelRatio: 1,
            layout: { padding: 0 },
            plugins: {
                legend: { display: false },
                tooltip: { enabled: false },
                title: {
                    display: true,
                    text: cfg.title,
                    color: '#000',
                    font: { family: SERIF, size: 52, weight: 'bold', lineHeight: 1.135 },
                    padding: { top: 26, bottom: 6 }
                },
                sensorLegend: { labels: cfg.legend, offset: cfg.legendOffset },
                textTweaks: { titleSpacing: 3, axisSpacing: 2.9, labelShift: 3 }
            },
            scales: {
                x: {
                    type: 'linear',
                    min: cfg.xMin,
                    max: cfg.xMax,
                    afterBuildTicks: s => { s.ticks = xTickValues.map(v => ({ value: v })); },
                    afterFit: s => { s.height = 127; },
                    grid: { color: '#dedede', lineWidth: 2, drawTicks: false },
                    border: { color: AXIS_DARK, width: 2 },
                    ticks: {
                        color: AXIS_DARK, padding: 20, maxRotation: 0,
                        font: { family: SANS, size: 36 },
                        callback: minusLabel
                    },
                    title: {
                        display: true,
                        text: 'Detection distribution in y-directoin [m]',
                        color: AXIS_DARK,
                        font: { family: SERIF, size: 50, lineHeight: 1.2 },
                        padding: 0
                    }
                },
                y: {
                    type: 'linear',
                    min: -2,
                    max: 5,
                    afterBuildTicks: s => { s.ticks = yTickValues.map(v => ({ value: v })); },
                    afterFit: s => { s.width = cfg.axisWidth; },
                    grid: { color: '#dedede', lineWidth: 2, drawTicks: false },
                    border: { color: AXIS_DARK, width: 2 },
                    ticks: {
                        color: AXIS_DARK, padding: 19,
                        font: { family: SANS, size: 36 },
                        callback: minusLabel
                    },
                    title: {
                        display: true,
                        text: 'Detection distribution in x-directoin [m]',
                        color: AXIS_DARK,
                        font: { family: SERIF, size: 50, lineHeight: 1.2 },
                        padding: { top: cfg.yTitlePad, bottom: cfg.yTitlePad }
                    }
                },
                // empty axis: keeps the title centred over the plot, like the original
                gutter: {
                    type: 'linear',
                    axis: 'y',
                    position: 'right',
                    grid: { display: false },
                    border: { display: false },
                    ticks: { display: false },
                    afterFit: s => { s.width = cfg.gutter; }
                }
            }
        }
    });
}

function makeColorBar(id, cfg) {
    return new Chart(document.getElementById(id), {
        type: 'bar',
        data: {
            labels: ['deviation'],
            datasets: [{
                data: [[-1, 1]],
                barPercentage: 1,
                categoryPercentage: 1,
                borderColor: AXIS_DARK,
                borderWidth: 2,
                borderSkipped: false,
                backgroundColor: ctx => {
                    const { chartArea, scales } = ctx.chart;
                    if (!chartArea) return 'transparent';
                    const g = ctx.chart.ctx.createLinearGradient(0, scales.y.getPixelForValue(-1), 0, scales.y.getPixelForValue(1));
                    JET_STOPS.forEach(s => g.addColorStop((s[0] + 1) / 2, `rgb(${s[1]},${s[2]},${s[3]})`));
                    return g;
                }
            }]
        },
        plugins: [inwardTicks, textTweaks],
        options: {
            responsive: false,
            animation: false,
            devicePixelRatio: 1,
            layout: { padding: { left: 22, top: 150, bottom: 125 } },
            plugins: {
                legend: { display: false },
                tooltip: { enabled: false },
                textTweaks: { axisSpacing: 3, labelShift: 2 }
            },
            scales: {
                x: { display: false },
                y: {
                    position: 'right',
                    min: -1,
                    max: 1,
                    afterBuildTicks: s => { s.ticks = barTickValues.map(v => ({ value: v })); },
                    afterFit: s => { s.width = cfg.axisWidth; },
                    grid: { display: false, drawTicks: false },
                    border: { display: false },
                    ticks: {
                        color: AXIS_DARK, padding: 14,
                        font: { family: SANS, size: 32 },
                        callback: minusLabel
                    },
                    title: {
                        display: true,
                        text: 'Deviation Relative Velocity [m/s]',
                        color: '#333',
                        font: { family: SERIF, size: 52, weight: 'bold', lineHeight: 1.2 },
                        padding: { top: cfg.titlePad, bottom: cfg.titlePad }
                    }
                }
            }
        }
    });
}

// ===== INIT =====
window.addEventListener('load', () => {
    const measuredHits = measuredOutliers.concat(measuredTop.map(p => p.length > 2 ? p : [p[0], p[1], .04]), measuredMiddle, measuredLower);
    const virtualHits = virtualUpper.concat(
        virtualSparse,
        virtualLeftBlob.map(p => p.length > 2 ? p : [p[0], p[1], .05]),
        virtualMiddle.map(p => p.length > 2 ? p : [p[0], p[1], .04]),
        virtualRightBlob
    );

    makePanel('measuredPanel', {
        hits: measuredHits, contours: measuredContours, levels: measuredLevels,
        title: measuredTitle, legend: measuredLegend, legendOffset: 610,
        xMin: -2.592, xMax: 2.62, axisWidth: 150, gutter: 148, yTitlePad: 18
    });
    makeColorBar('measuredBar', { axisWidth: 216, titlePad: 58 });

    makePanel('virtualPanel', {
        hits: virtualHits, contours: virtualContours, levels: virtualLevels,
        title: virtualTitle, legend: virtualLegend, legendOffset: 612,
        xMin: -2.605, xMax: 2.61, axisWidth: 198, gutter: 197, yTitlePad: 69
    });
    makeColorBar('virtualBar', { axisWidth: 196, titlePad: 39 });
});
</script>
</body>
</html>
